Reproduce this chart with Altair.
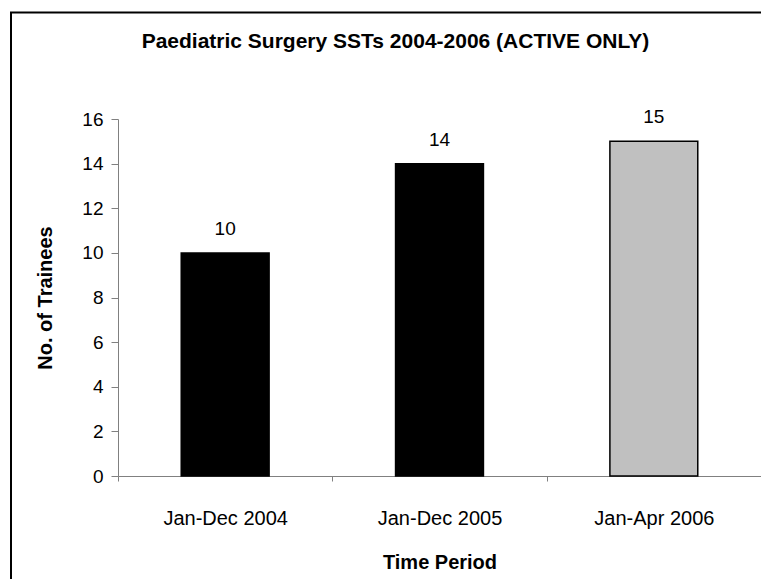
import altair as alt
import pandas as pd

periods = ["Jan-Dec 2004", "Jan-Dec 2005", "Jan-Apr 2006"]
trainees = [10, 14, 15]
fills = ["#000000", "#000000", "#C0C0C0"]
title_text = ["Paediatric Surgery SSTs 2004-2006 (ACTIVE ONLY)"]

df = pd.DataFrame({"period": periods, "trainees": trainees, "fill": fills})

W, H = 643, 357
FONT = "Liberation Sans"

x = alt.X("period:N", sort=periods,
          scale=alt.Scale(paddingInner=0, paddingOuter=0),
          axis=alt.Axis(title="Time Period", labelAngle=0, tickBand="extent",
                        tickSize=5, labelPadding=27, titlePadding=24,
                        labelFontSize=20, titleFontSize=20, titleFontWeight="bold",
                        labelColor="black", titleColor="black",
                        domainColor="#808080", tickColor="#808080",
                        labelFont=FONT, titleFont=FONT))
y = alt.Y("trainees:Q",
          scale=alt.Scale(domain=[0, 16], nice=False),
          axis=alt.Axis(title="No. of Trainees", values=list(range(0, 17, 2)), grid=False,
                        tickSize=7, labelPadding=8, titlePadding=26,
                        labelFontSize=19, titleFontSize=20, titleFontWeight="bold",
                        labelColor="black", titleColor="black",
                        domainColor="#808080", tickColor="#808080",
                        labelFont=FONT, titleFont=FONT))

bars = alt.Chart(df).mark_bar(width=alt.RelativeBandSize(0.41), stroke="black", strokeWidth=1.5).encode(
    x=x, y=y, fill=alt.Fill("fill:N", scale=None)
)

labels = alt.Chart(df).mark_text(dy=-18, baseline="alphabetic", fontSize=19, font=FONT, color="black").encode(
    x=alt.X("period:N", sort=periods), y=alt.Y("trainees:Q"), text=alt.Text("trainees:Q")
)

border = alt.Chart(pd.DataFrame({"k": [0]})).mark_rect(fill=None, stroke="black", strokeWidth=2).encode(
    x=alt.value(-107), x2=alt.value(W + 60), y=alt.value(-106.5), y2=alt.value(H + 160)
)

title = alt.Chart(pd.DataFrame({"t": title_text})).mark_text(
    fontSize=21, fontWeight="bold", font=FONT, color="black", align="center", baseline="alphabetic"
).encode(x=alt.value(277.5), y=alt.value(-71), text="t:N")

chart = alt.layer(border, bars, labels, title).properties(
    width=W, height=H,
    autosize=alt.AutoSizeParams(type="none"),
    padding={"left": 110, "top": 111, "right": 0, "bottom": 103},
    background="white",
).configure_view(stroke=None)

chart.save("out.html", embed_options={"renderer": "svg", "actions": False})
